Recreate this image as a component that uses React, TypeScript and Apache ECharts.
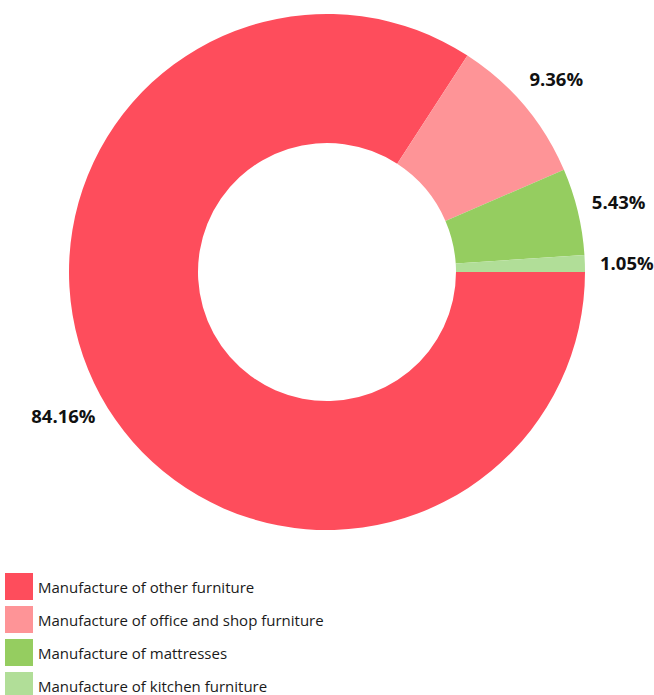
import React, { useEffect, useRef } from "react";
import * as echarts from "echarts";

const categories = [
  "Manufacture of other furniture",
  "Manufacture of office and shop furniture",
  "Manufacture of mattresses",
  "Manufacture of kitchen furniture",
];
const shares = [84.16, 9.36, 5.43, 1.05];
const colors = ["#fe4d5c", "#fe9497", "#95cd60", "#b1de98"];

export default function App() {
  const ref = useRef<HTMLDivElement>(null);
  useEffect(() => {
    if (!ref.current) return;
    const chart = echarts.init(ref.current, undefined, { renderer: "svg" });
    const data = categories.map((name, i) => ({
      name,
      value: shares[i],
      itemStyle: { color: colors[i] },
    }));
    chart.setOption({
      animation: false,
      color: colors,
      legend: {
        orient: "vertical",
        left: 5,
        top: 573,
        height: 300,
        padding: 0,
        itemWidth: 28,
        itemHeight: 27,
        itemGap: 6,
        icon: "rect",
        selectedMode: false,
        data: categories,
        textStyle: {
          fontFamily: "Open Sans",
          fontSize: 15,
          color: "#1a1a1a",
        },
      },
      series: [
        {
          type: "pie",
          center: [327, 272],
          radius: [129, 258],
          startAngle: 0,
          clockwise: true,
          silent: true,
          label: { show: false },
          labelLine: { show: false },
          data,
        },
        {
          type: "pie",
          center: [327, 272],
          radius: [277, 317],
          startAngle: 0,
          clockwise: true,
          silent: true,
          itemStyle: { color: "transparent" },
          label: {
            show: true,
            position: "inside",
            formatter: (p: any) => p.value.toFixed(2) + "%",
            fontFamily: "Open Sans",
            fontWeight: "bold",
            fontSize: 18.5,
            color: "#111",
          },
          labelLine: { show: false },
          data: categories.map((name, i) => ({
            name,
            value: shares[i],
            itemStyle: { color: "rgba(0,0,0,0)" },
          })),
        },
      ],
    });
    return () => chart.dispose();
  }, []);
  return (
    <div
      ref={ref}
      style={{ position: "fixed", left: 0, top: 0, width: 654, height: 695, background: "#fff" }}
    />
  );
}
